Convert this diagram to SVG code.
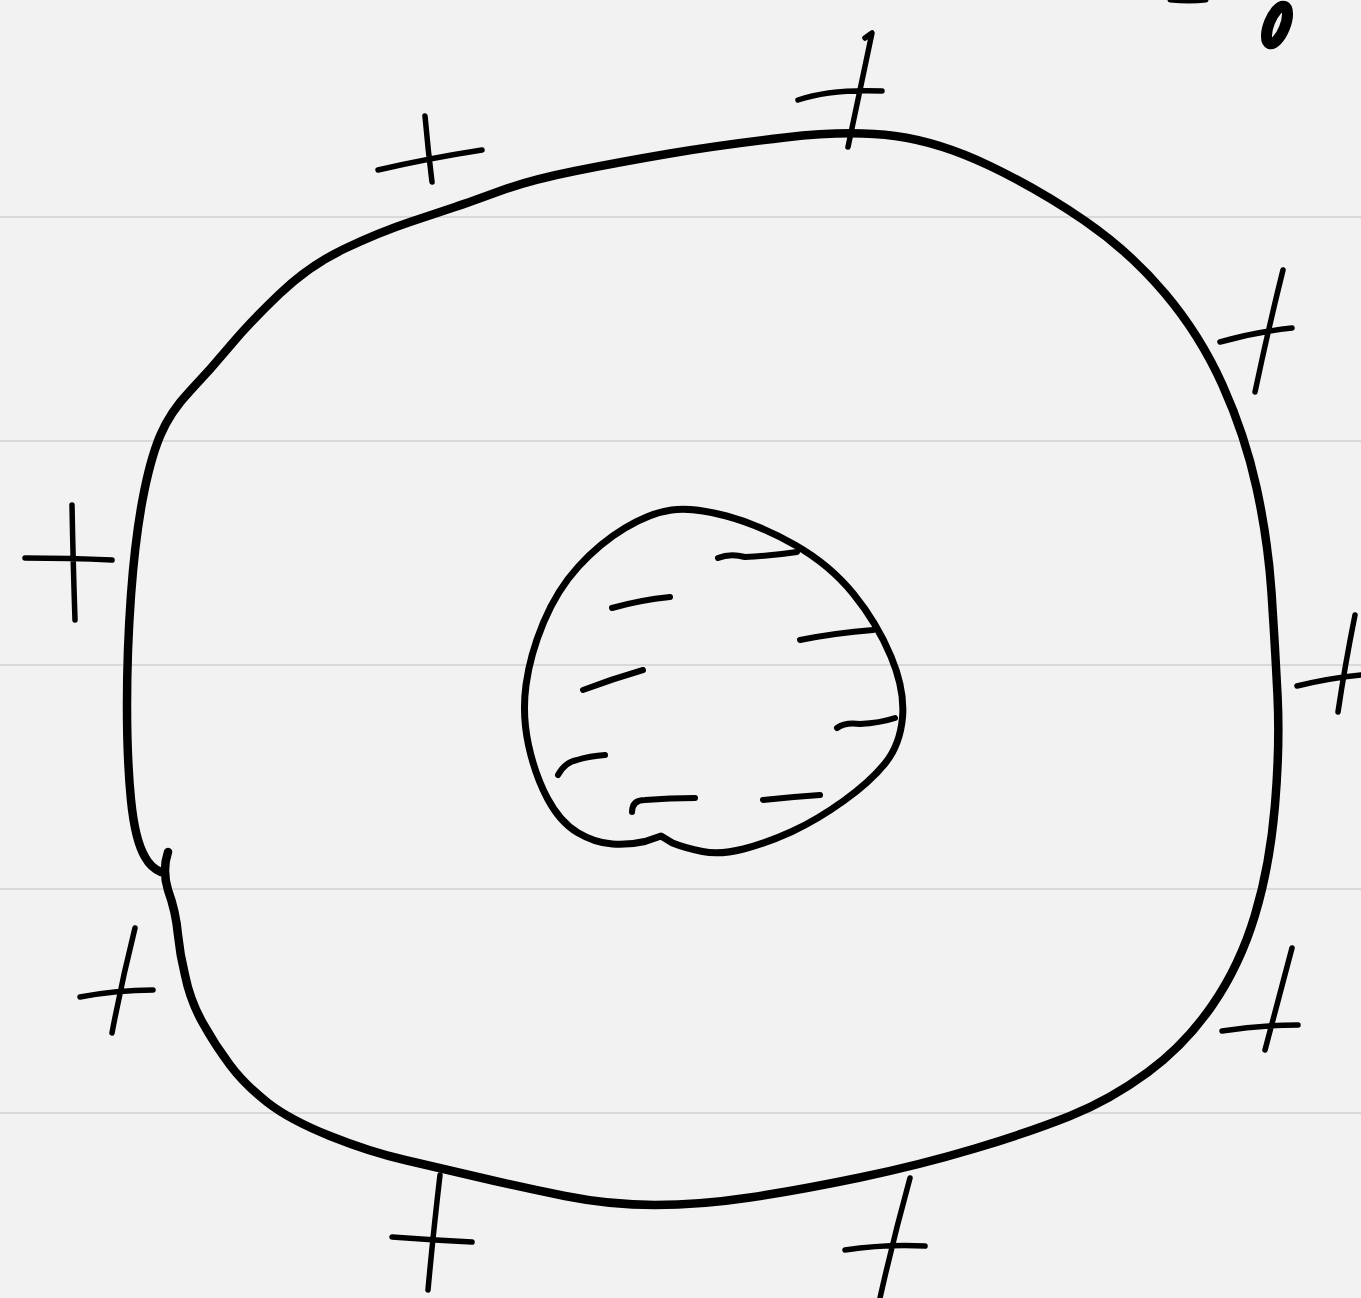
<svg xmlns="http://www.w3.org/2000/svg" width="1361" height="1298" viewBox="0 0 1361 1298">
<style>
.rule{stroke:#d9d9d9;stroke-width:2;fill:none}
.ink{stroke:#000;fill:none;stroke-linecap:round;stroke-linejoin:round}
.outer{stroke-width:8.5}
.inner{stroke-width:7}
.sign{stroke-width:5.5}
.dash{stroke-width:6}
</style>
<rect width="1361" height="1298" fill="#f2f2f2"/>
<g id="paper">
<line class="rule" x1="0" y1="217" x2="1361" y2="217"/>
<line class="rule" x1="0" y1="441" x2="1361" y2="441"/>
<line class="rule" x1="0" y1="665" x2="1361" y2="665"/>
<line class="rule" x1="0" y1="889" x2="1361" y2="889"/>
<line class="rule" x1="0" y1="1113" x2="1361" y2="1113"/>
</g>
<g id="cell">
<path class="ink outer" d="M168,852 Q162,870 168,890 Q176,912 178,935 Q180,955 185,975 Q190,1000 202.5,1022.5 Q215,1045 230,1065 Q245,1085 267.5,1102.5 Q290,1120 330,1136 Q370,1152 405,1160 Q440,1168 480,1177.5 Q520,1187 565,1196 Q610,1205 655,1205 Q700,1205 750,1197.5 Q800,1190 860,1177.5 Q920,1165 975,1148.5 Q1030,1132 1070,1116 Q1110,1100 1147.5,1072.5 Q1185,1045 1212.5,1005 Q1240,965 1255,915 Q1270,865 1275,805 Q1280,745 1277.5,695 Q1275,645 1271.5,592.5 Q1268,540 1256.5,487.5 Q1245,435 1222.5,385 Q1200,335 1165,293.5 Q1130,252 1085,221 Q1040,190 990,166 Q940,142 895,136 Q850,130 785,137.5 Q720,145 670,153.5 Q620,162 575,171 Q530,180 500,191 Q470,202 455,207 Q440,212 410,222 Q380,232 345,248.5 Q310,265 280,293.5 Q250,322 230,346 Q210,370 190,391 Q170,412 160,436 Q150,460 142.5,500 Q135,540 131,595 Q127,650 127,705 Q127,760 131,800 Q135,840 145,857 Q151,868 161,872"/>
</g>
<g id="plus-signs">
<path class="ink sign" d="M378,170 Q430,158 482,150 M425,116 Q428,150 432,182"/>
<path class="ink sign" d="M798,100 Q830,89 882,91 M865,38 L872,33 Q860,90 848,147"/>
<path class="ink sign" d="M1220,342 Q1255,332 1292,328 M1283,270 Q1268,330 1255,392"/>
<path class="ink sign" d="M1297,686 Q1330,678 1361,675 M1355,615 Q1345,665 1338,712"/>
<path class="ink sign" d="M1222,1031 Q1260,1025 1298,1025 M1292,948 Q1278,1000 1265,1050"/>
<path class="ink sign" d="M845,1250 Q885,1244 925,1246 M910,1178 Q893,1240 880,1298"/>
<path class="ink sign" d="M392,1237 Q432,1240 472,1242 M440,1175 Q433,1235 428,1290"/>
<path class="ink sign" d="M80,997 Q117,990 153,990 M135,928 Q122,980 112,1033"/>
<path class="ink sign" d="M25,558 Q70,558 112,560 M72,505 Q73,560 75,620"/>
</g>
<g id="nucleus">
<path class="ink inner" d="M671.5,510 Q693,507 726.5,516 Q760,525 795,545 Q830,565 853.5,594 Q877,623 891,656.5 Q905,690 902.5,717.5 Q900,745 885,763.5 Q870,782 843.5,801 Q817,820 792,831.5 Q767,843 743.5,849 Q720,855 702.5,851.5 Q685,848 672.5,843 L661,836 L645,841.5 Q630,845 612.5,844 Q595,843 577.5,832.5 Q560,822 547.5,798.5 Q535,775 528.5,745 Q522,715 526,685 Q530,655 543.5,622.5 Q557,590 578.5,566.5 Q600,543 625,528 Q650,513 671.5,510 Z"/>
</g>
<g id="minus-signs">
<path class="ink dash" d="M718,558 Q730,553 745,557 Q770,556 797,552"/>
<path class="ink dash" d="M612,608 Q640,600 670,597"/>
<path class="ink dash" d="M800,640 Q835,633 873,630"/>
<path class="ink dash" d="M583,690 Q612,679 643,670"/>
<path class="ink dash" d="M837,728 Q845,722 860,724 Q880,723 895,718"/>
<path class="ink dash" d="M558,775 Q565,762 577,760 Q590,756 605,755"/>
<path class="ink dash" d="M632,812 Q632,800 645,800 Q670,798 695,798"/>
<path class="ink dash" d="M763,800 Q790,797 820,795"/>
</g>
<g id="corner-mark">
<path class="ink" stroke-width="5" d="M1170,0 Q1190,2 1206,0"/>
<ellipse class="ink" stroke-width="11" cx="1277" cy="25" rx="8" ry="20" transform="rotate(22 1277 25)"/>
</g>
</svg>
